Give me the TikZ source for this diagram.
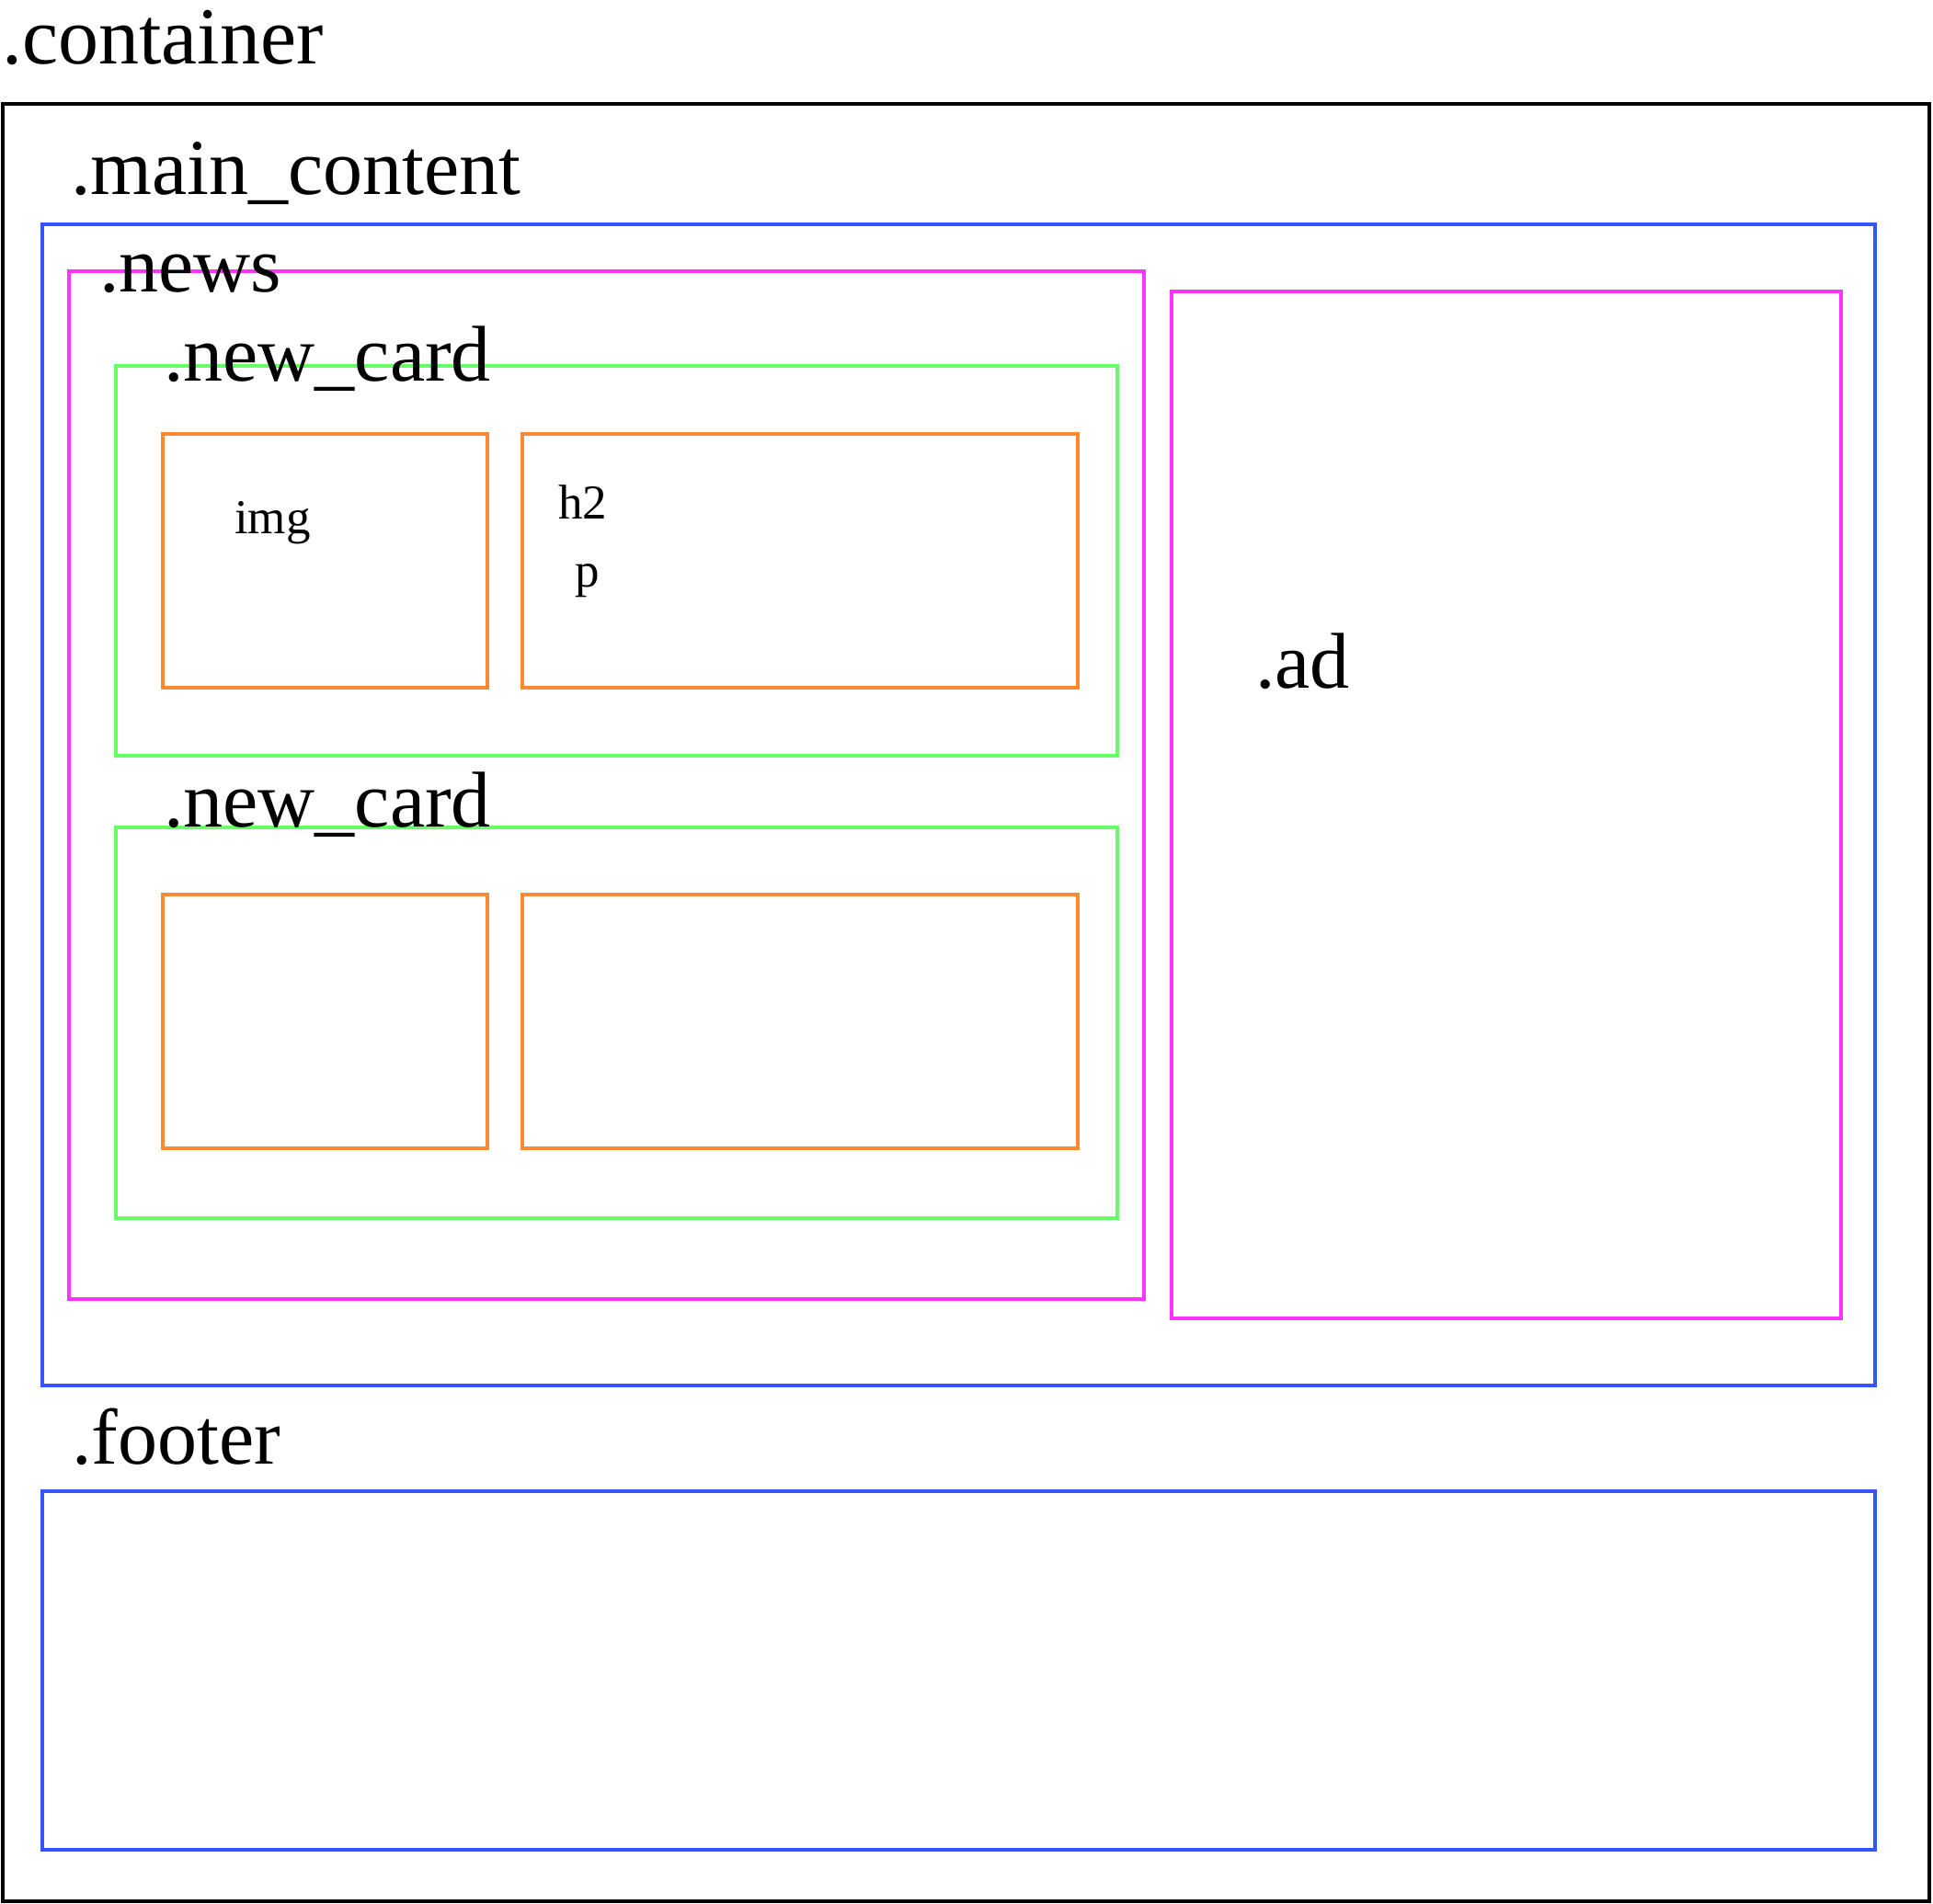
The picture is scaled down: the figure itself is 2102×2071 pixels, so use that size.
\documentclass[tikz,border=0pt]{standalone}
\usepackage{fontspec}
\setmainfont{Liberation Serif}
\definecolor{cblue}{RGB}{51,85,255}
\definecolor{cmag}{RGB}{255,51,255}
\definecolor{cgreen}{RGB}{102,255,102}
\definecolor{corange}{RGB}{255,136,51}
\tikzset{
  boxline/.style={line width=4pt},
  blk/.style={boxline, draw=black},
  blu/.style={boxline, draw=cblue},
  mag/.style={boxline, draw=cmag},
  grn/.style={boxline, draw=cgreen},
  org/.style={boxline, draw=corange},
  big/.style={inner sep=0pt, anchor=base west, font=\fontsize{86}{90}\selectfont},
  small/.style={inner sep=0pt, anchor=base west, font=\fontsize{53}{60}\selectfont},
}
\begin{document}
\begin{tikzpicture}[x=1pt,y=-1pt]
\useasboundingbox (0,0) rectangle (2102,2071);
% boxes
\draw[blk] (3,113) rectangle (2098,2068);
\draw[blu] (46,244) rectangle (2039,1507);
\draw[mag] (75,295) rectangle (1244,1413);
\draw[mag] (1274,317) rectangle (2002,1434);
\draw[grn] (126,398) rectangle (1215,822);
\draw[grn] (126,900) rectangle (1215,1325);
\draw[org] (177,472) rectangle (530,748);
\draw[org] (568,472) rectangle (1172,748);
\draw[org] (177,973) rectangle (530,1249);
\draw[org] (568,973) rectangle (1172,1249);
\draw[blu] (46,1622) rectangle (2039,2012);
% labels
\node[big, font=\fontsize{88}{90}\selectfont] (lcontainer) at (2,70) {.container};
\node[big] (lmain) at (77,212) {.main\_content};
\node[big] (lnews) at (108,317) {.news};
\node[big] (lcard1) at (178,414) {.new\_card};
\node[big] (lcard2) at (178,899) {.new\_card};
\node[big] (lad) at (1365,748) {.ad};
\node[big] (lfooter) at (78,1592) {.footer};
\node[small] (limg) at (255,580) {img};
\node[small] (lh2) at (607,564) {h2};
\node[small] (lp) at (625,638) {p};
\end{tikzpicture}
\end{document}
